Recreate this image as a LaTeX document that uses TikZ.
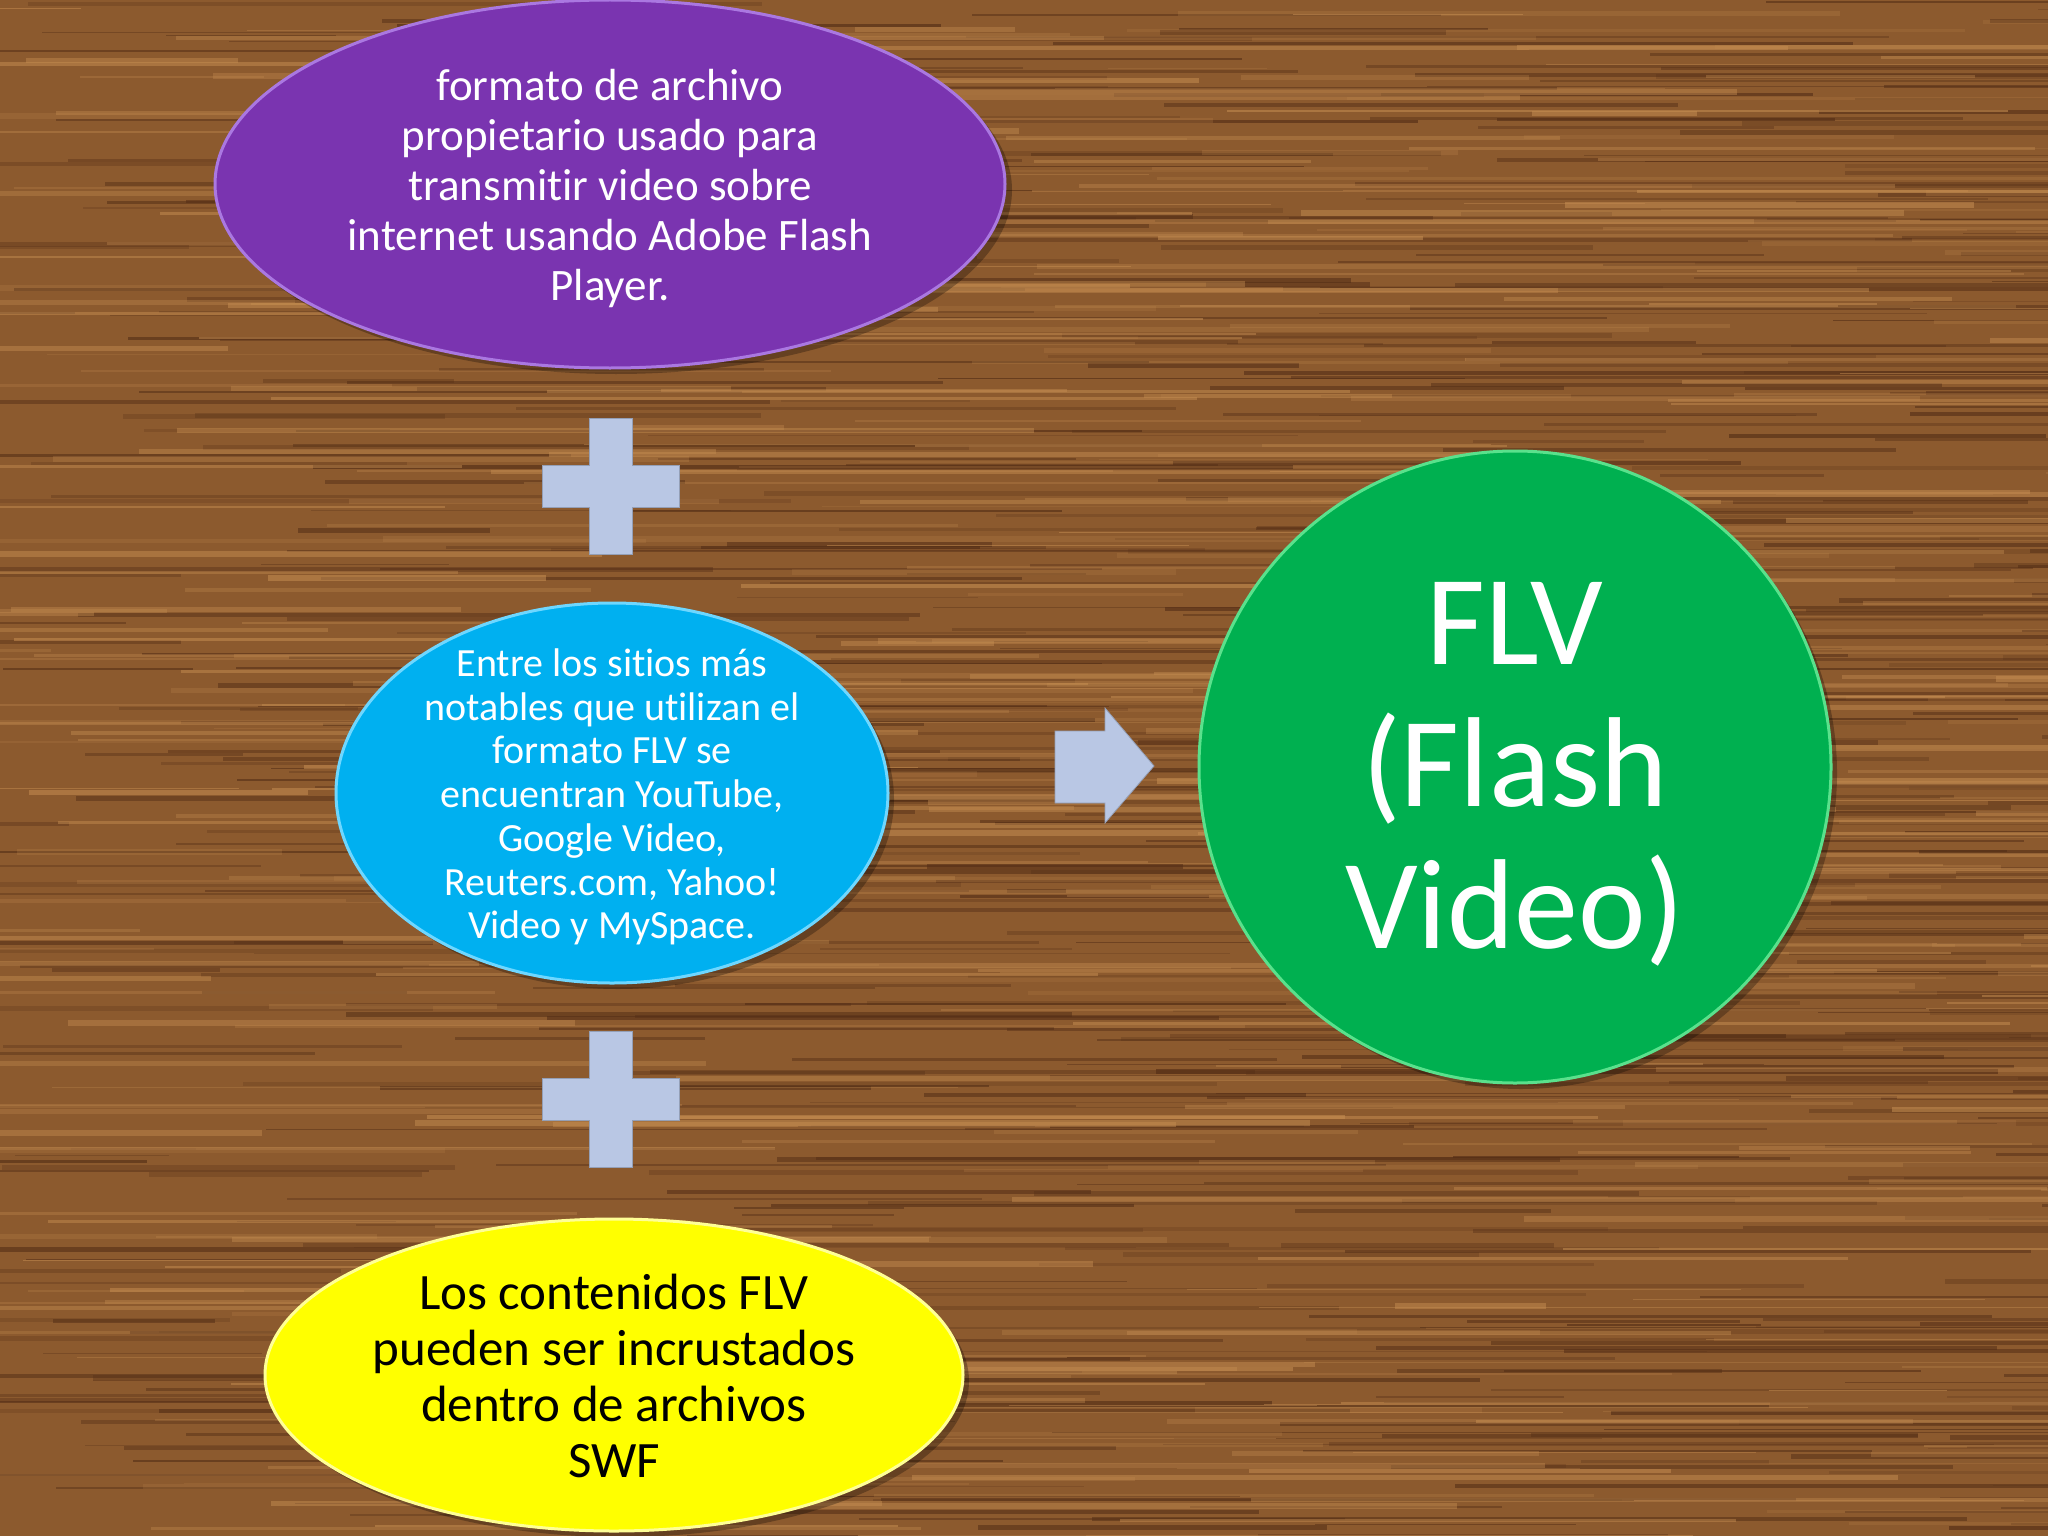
\documentclass[tikz,border=0pt]{standalone}
\usepackage{fontspec}
\setmainfont{Carlito}[Ligatures={NoCommon}]
\usetikzlibrary{shapes.geometric}
\definecolor{woodbase}{RGB}{140,90,46}
\definecolor{wooddark}{RGB}{84,46,22}
\definecolor{woodlight}{RGB}{198,142,82}
\definecolor{purpfill}{RGB}{122,52,176}
\definecolor{purpedge}{RGB}{170,120,225}
\definecolor{bluefill}{RGB}{0,176,240}
\definecolor{blueedge}{RGB}{110,215,255}
\definecolor{yelfill}{RGB}{255,255,0}
\definecolor{yeledge}{RGB}{255,255,150}
\definecolor{grnfill}{RGB}{0,176,80}
\definecolor{grnedge}{RGB}{90,225,140}
\definecolor{signfill}{RGB}{185,199,228}
\tikzset{
  bubble/.style={ellipse, inner sep=0pt, draw=#1, line width=3pt},
  shadowshape/.style={fill=black, opacity=0.28},
  bubtext/.style={align=center, inner sep=0pt},
  signshape/.style={fill=signfill, draw=signfill!80!black, line width=0.8pt}
}
\begin{document}
\begin{tikzpicture}[x=1pt,y=-1pt]
\useasboundingbox (0,0) rectangle (2048,1536);
% wood background
\fill[woodbase] (0,0) rectangle (2048,1536);
\pgfmathsetseed{11}
\foreach \i in {1,...,600}{
  \pgfmathsetmacro\yy{rnd*1536}
  \pgfmathsetmacro\xx{rnd*2248-200}
  \pgfmathsetmacro\ll{150+rnd*900}
  \pgfmathsetmacro\ww{1+rnd*4}
  \pgfmathsetmacro\oo{0.2+rnd*0.45}
  \fill[wooddark, opacity=\oo] (\xx,\yy) rectangle ++(\ll,\ww);
}
\foreach \i in {1,...,450}{
  \pgfmathsetmacro\yy{rnd*1536}
  \pgfmathsetmacro\xx{rnd*2248-200}
  \pgfmathsetmacro\ll{150+rnd*900}
  \pgfmathsetmacro\ww{1+rnd*5}
  \pgfmathsetmacro\oo{0.15+rnd*0.4}
  \fill[woodlight, opacity=\oo] (\xx,\yy) rectangle ++(\ll,\ww);
}
% shadows
\fill[shadowshape] (616,190) ellipse (396 and 184);
\fill[shadowshape] (618,799) ellipse (276 and 190);
\fill[shadowshape] (620,1381) ellipse (349 and 156);
\fill[shadowshape] (1521,773) circle (316);
% shapes
\node[bubble=purpedge, fill=purpfill, minimum width=790pt, minimum height=368pt] (purple) at (610,184) {};
\node[bubble=blueedge, fill=bluefill, minimum width=552pt, minimum height=380pt] (blue) at (612,793) {};
\node[bubble=yeledge, fill=yelfill, minimum width=698pt, minimum height=312pt] (yellow) at (614,1375) {};
\node[circle, inner sep=0pt, draw=grnedge, line width=3pt, fill=grnfill, minimum size=632pt] (green) at (1515,767) {};
% texts
\node[bubtext, text=white, font=\fontsize{45}{50}\selectfont] (ptext) at ([yshift=-5pt]purple.center)
  {formato de archivo\\propietario usado para\\transmitir video sobre\\internet usando Adobe Flash\\Player.};
\node[bubtext, text=white, font=\fontsize{40}{43.7}\selectfont] (btext) at ([yshift=-4pt]blue.center)
  {Entre los sitios más\\notables que utilizan el\\formato FLV se\\encuentran YouTube,\\Google Video,\\Reuters.com, Yahoo!\\Video y MySpace.};
\node[bubtext, text=black, font=\fontsize{51}{55.7}\selectfont] (ytext) at ([yshift=-1pt]yellow.center)
  {Los contenidos FLV\\pueden ser incrustados\\dentro de archivos\\SWF};
\node[bubtext, text=white, font=\fontsize{128}{142}\selectfont] (gtext) at ([yshift=-7pt]green.center)
  {FLV\\(Flash\\Video)};
% plus signs
\coordinate (plusA) at (611,486);
\coordinate (plusB) at (611,1099);
\foreach \c in {plusA,plusB}{
  \draw[signshape] ([shift={(-21.5,-68)}]\c) -- ++(43,0) -- ++(0,47) -- ++(47,0) -- ++(0,42)
    -- ++(-47,0) -- ++(0,47) -- ++(-43,0) -- ++(0,-47) -- ++(-47,0) -- ++(0,-42) -- ++(47,0) -- cycle;
}
% arrow
\draw[signshape] (1055,731) -- (1105,731) -- (1105,708) -- (1154,766) -- (1105,823)
  -- (1105,803) -- (1055,803) -- cycle;
\end{tikzpicture}
\end{document}
